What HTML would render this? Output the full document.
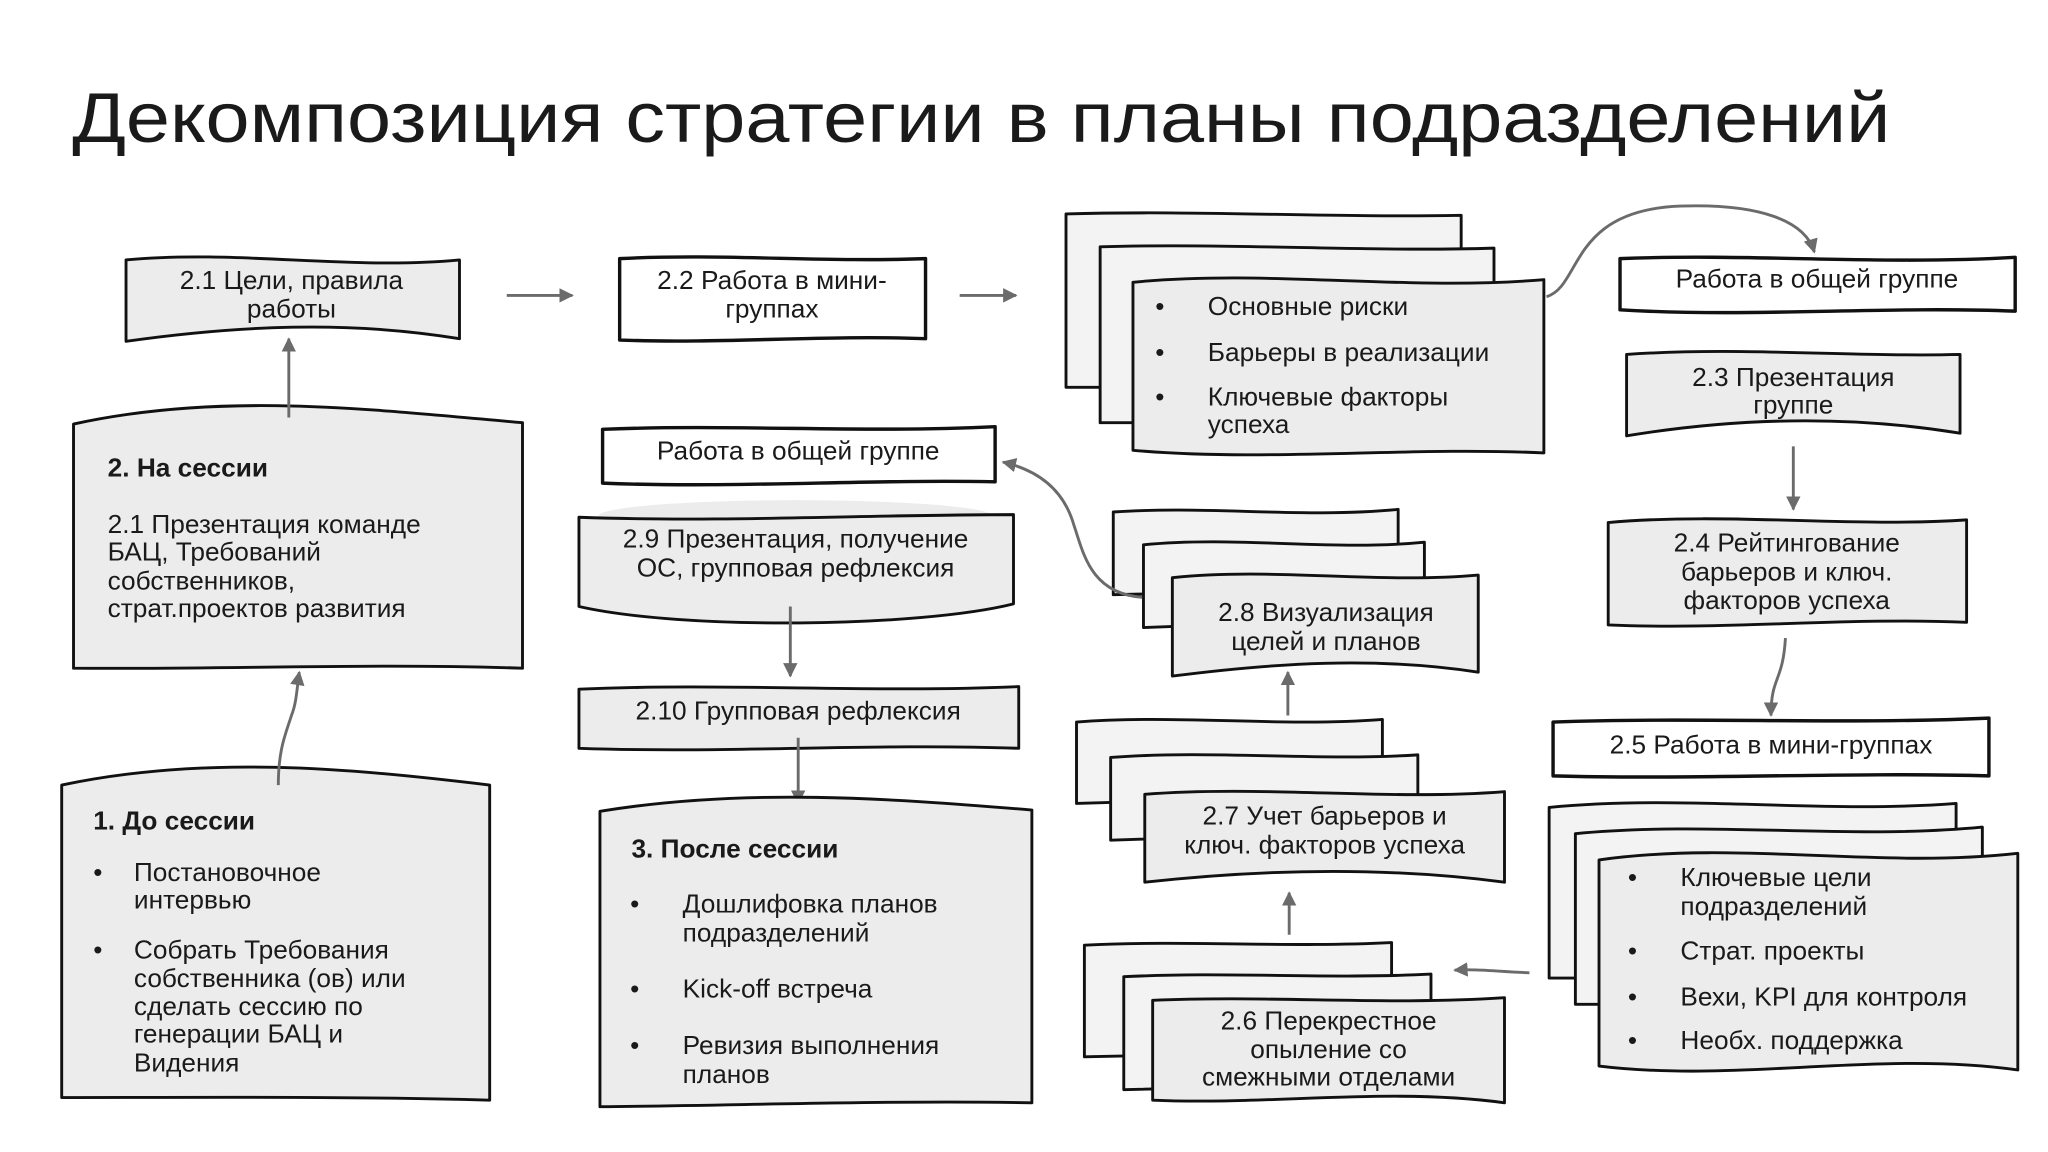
<!DOCTYPE html>
<html><head><meta charset="utf-8"><style>
html,body{margin:0;padding:0;background:#fff;}
svg{display:block;}
text{font-family:"Liberation Sans","DejaVu Sans",sans-serif;fill:#1a1a1a;font-size:20px;}
.c{text-anchor:middle;}
.b{font-weight:bold;}
.g{fill:#ececec;stroke:#111;stroke-width:2.2;stroke-linejoin:round;}
.l{fill:#f3f3f3;stroke:#111;stroke-width:2.2;stroke-linejoin:round;}
.w{fill:#fff;stroke:#111;stroke-width:2.6;stroke-linejoin:round;}
.a{fill:none;stroke:#6b6b6b;stroke-width:2.2;}
</style></head><body>
<svg width="2048" height="1152" viewBox="0 0 1560 877.5" xmlns="http://www.w3.org/2000/svg">
<defs><marker id="m" viewBox="0 0 10 10" refX="9" refY="5" markerWidth="5" markerHeight="5" orient="auto-start-reverse"><path d="M0,0 L10,5 L0,10 Z" fill="#6b6b6b"/></marker></defs>

<text x="55" y="108" style="font-size:54px" textLength="1385" lengthAdjust="spacingAndGlyphs">Декомпозиция стратегии в планы подразделений</text>

<!-- 2.1 -->
<path class="g" d="M96,198 C181,190 265,206 350,198 L350,258 C265,244 181,248 96,260 Z"/>
<text class="c" x="222" y="220">2.1 Цели, правила</text><text class="c" x="222" y="242">работы</text>
<path class="a" d="M386,225 L436,225" marker-end="url(#m)"/>
<!-- 2.2 -->
<path class="w" d="M472,197 C550,193 627,200 705,197 L705,258 C627,255 550,262 472,259 Z"/>
<text class="c" x="588" y="220">2.2  Работа в мини-</text><text class="c" x="588" y="242">группах</text>
<path class="a" d="M731,225 L774,225" marker-end="url(#m)"/>

<!-- risks stack -->
<path class="l" d="M812,163 C912,160 1013,166 1113,164 L1113,295 L812,295 Z"/>
<path class="l" d="M838,188 C938,185 1038,192 1138,189 L1138,322 L838,322 Z"/>
<path class="g" d="M863,215 C967,205 1071,222 1176,213 L1176,345 C1071,340 967,352 863,343 Z"/>
<text x="880" y="240">•</text><text x="920" y="240">Основные риски</text>
<text x="880" y="275">•</text><text x="920" y="275">Барьеры в реализации</text>
<text x="880" y="309">•</text><text x="920" y="309">Ключевые факторы</text><text x="920" y="330">успеха</text>
<path class="a" d="M1178,226 C1205,218 1195,160 1280,157 C1340,155 1375,168 1382,192" marker-end="url(#m)"/>
<path class="w" d="M1234,197 C1334,193 1434,202 1535,196 L1535,237 C1434,233 1334,242 1234,236 Z"/>
<text class="c" x="1384" y="219">Работа в общей группе</text>

<!-- 2.3 -->
<path class="g" d="M1239,270 C1324,264 1408,272 1493,270 L1493,330 C1408,316 1324,318 1239,332 Z"/>
<text class="c" x="1366" y="294">2.3 Презентация</text><text class="c" x="1366" y="315">группе</text>
<path class="a" d="M1366,340 L1366,388" marker-end="url(#m)"/>
<!-- 2.4 -->
<path class="g" d="M1225,398 C1316,390 1407,402 1498,396 L1498,474 C1407,470 1316,480 1225,476 Z"/>
<text class="c" x="1361" y="420">2.4 Рейтингование</text><text class="c" x="1361" y="442">барьеров и ключ.</text><text class="c" x="1361" y="464">факторов успеха</text>
<path class="a" d="M1360,486 C1358,520 1349,515 1349,545" marker-end="url(#m)"/>
<!-- 2.5 -->
<path class="w" d="M1183,550 C1293,546 1404,552 1515,547 L1515,591 C1404,588 1293,594 1183,591 Z"/>
<text class="c" x="1349" y="574">2.5 Работа в мини-группах</text>

<!-- bottom right stack -->
<path class="l" d="M1180,615 C1283,605 1387,620 1490,612 L1490,745 L1180,745 Z"/>
<path class="l" d="M1200,635 C1303,625 1407,640 1510,630 L1510,765 L1200,765 Z"/>
<path class="g" d="M1218,655 C1324,640 1430,662 1537,650 L1537,815 C1430,800 1324,825 1218,812 Z"/>
<text x="1240" y="675">•</text><text x="1280" y="675">Ключевые  цели</text><text x="1280" y="697">подразделений</text>
<text x="1240" y="731">•</text><text x="1280" y="731">Страт. проекты</text>
<text x="1240" y="766">•</text><text x="1280" y="766">Вехи, KPI для контроля</text>
<text x="1240" y="799">•</text><text x="1280" y="799">Необх. поддержка</text>
<path class="a" d="M1165,741 C1140,740 1125,738 1108,739" marker-end="url(#m)"/>

<!-- 2.6 stack -->
<path class="l" d="M826,720 C904,716 982,722 1060,718 L1060,800 L826,805 Z"/>
<path class="l" d="M856,744 C934,740 1012,746 1090,742 L1090,825 L856,830 Z"/>
<path class="g" d="M878,762 C967,758 1057,766 1146,760 L1146,840 C1057,828 967,842 878,838 Z"/>
<text class="c" x="1012" y="784">2.6 Перекрестное</text><text class="c" x="1012" y="806">опыление со</text><text class="c" x="1012" y="827">смежными отделами</text>
<path class="a" d="M982,712 L982,680" marker-end="url(#m)"/>

<!-- 2.7 stack -->
<path class="l" d="M820,550 C898,544 975,554 1053,548 L1053,605 L820,612 Z"/>
<path class="l" d="M846,577 C924,571 1002,580 1080,575 L1080,632 L846,640 Z"/>
<path class="g" d="M872,605 C963,598 1055,610 1146,603 L1146,672 C1055,660 963,662 872,672 Z"/>
<text class="c" x="1009" y="628">2.7 Учет барьеров и</text><text class="c" x="1009" y="650">ключ. факторов успеха</text>
<path class="a" d="M981,545 L981,512" marker-end="url(#m)"/>

<!-- 2.8 stack -->
<path class="l" d="M848,390 C920,385 993,395 1065,388 L1065,448 L848,453 Z"/>
<path class="l" d="M871,415 C943,408 1014,420 1085,413 L1085,470 L871,478 Z"/>
<path class="g" d="M893,440 C971,432 1048,445 1126,438 L1126,512 C1048,500 971,505 893,515 Z"/>
<text class="c" x="1010" y="473">2.8 Визуализация</text><text class="c" x="1010" y="495">целей и планов</text>
<path class="a" d="M870,455 C830,452 825,420 818,400 C810,372 790,358 764,352" marker-end="url(#m)"/>

<!-- общая группа left -->
<path class="w" d="M459,327 C559,323 659,330 758,325 L758,367 C659,365 559,372 459,368 Z"/>
<text class="c" x="608" y="350">Работа в общей группе</text>
<!-- 2.9 -->
<ellipse cx="606" cy="393" rx="150" ry="12" fill="#ececec"/>
<path class="g" d="M441,394 C551,398 662,392 772,392 L772,460 C700,478 520,480 441,462 Z"/>
<text class="c" x="606" y="417">2.9 Презентация, получение</text><text class="c" x="606" y="439">ОС, групповая рефлексия</text>
<path class="a" d="M602,462 L602,515" marker-end="url(#m)"/>
<!-- 2.10 -->
<path class="g" d="M441,525 C553,520 664,528 776,523 L776,570 C664,566 553,574 441,570 Z"/>
<text class="c" x="608" y="548">2.10 Групповая рефлексия</text>
<path class="a" d="M608,562 L608,612" marker-end="url(#m)"/>
<!-- 3 -->
<path class="g" d="M457,618 C567,600 676,608 786,617 L786,840 C676,838 567,842 457,843 Z"/>
<text class="b" x="481" y="653">3. После сессии</text>
<text x="480" y="695">•</text><text x="520" y="695">Дошлифовка планов</text><text x="520" y="717">подразделений</text>
<text x="480" y="760">•</text><text x="520" y="760">Kick-off встреча</text>
<text x="480" y="803">•</text><text x="520" y="803">Ревизия выполнения</text><text x="520" y="825">планов</text>

<!-- 2 -->
<path class="g" d="M56,323 C170,298 284,312 398,322 L398,509 C284,505 170,510 56,509 Z"/>
<text class="b" x="82" y="363">2. На сессии</text>
<text x="82" y="406">2.1 Презентация команде</text><text x="82" y="427">БАЦ, Требований</text><text x="82" y="449">собственников,</text><text x="82" y="470">страт.проектов развития</text>
<path class="a" d="M220,318 L220,258" marker-end="url(#m)"/>

<!-- 1 -->
<path class="g" d="M47,598 C156,575 264,585 373,598 L373,838 C264,835 156,836 47,836 Z"/>
<text class="b" x="71" y="632">1. До сессии</text>
<text x="71" y="671">•</text><text x="102" y="671">Постановочное</text><text x="102" y="692">интервью</text>
<text x="71" y="730">•</text><text x="102" y="730">Собрать Требования</text><text x="102" y="752">собственника (ов) или</text><text x="102" y="773">сделать сессию по</text><text x="102" y="794">генерации БАЦ и</text><text x="102" y="816">Видения</text>
<path class="a" d="M212,598 C212,570 218,558 222,545 C226,535 226,525 228,512" marker-end="url(#m)"/>
</svg>
</body></html>
